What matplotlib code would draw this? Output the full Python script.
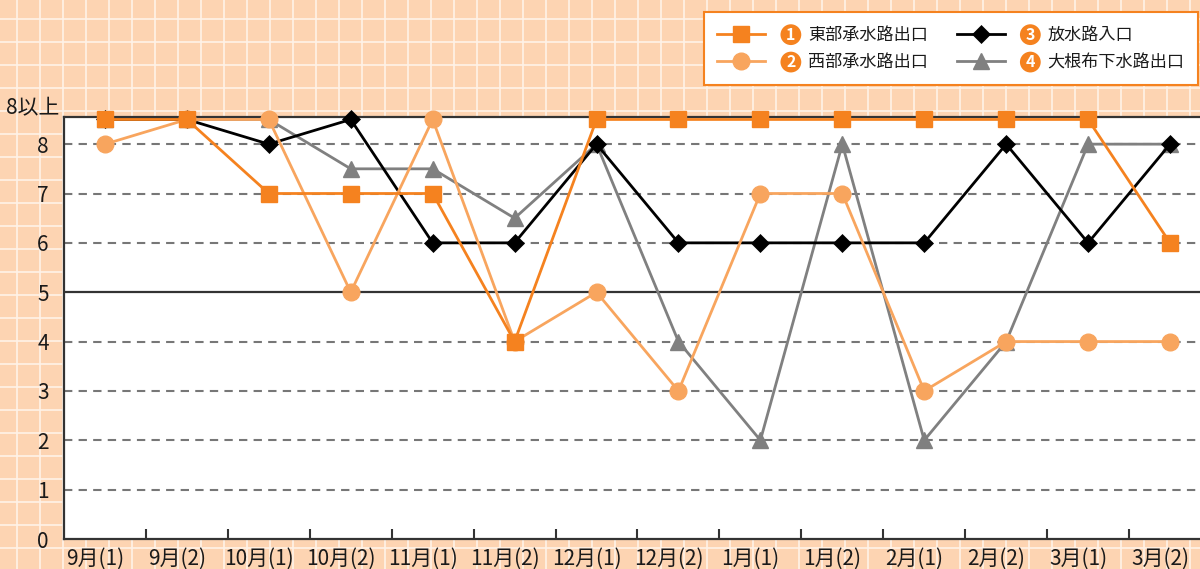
import numpy as np
import matplotlib
matplotlib.use('Agg')
import matplotlib.pyplot as plt
from matplotlib.transforms import ScaledTranslation

plt.rcParams['font.family'] = ['Noto Sans CJK JP', 'DejaVu Sans']

# データ（透視度など、8以上は8.5として描画）
periods = ['9月(1)', '9月(2)', '10月(1)', '10月(2)', '11月(1)', '11月(2)', '12月(1)',
           '12月(2)', '1月(1)', '1月(2)', '2月(1)', '2月(2)', '3月(1)', '3月(2)']
east_outlet = [8.5, 8.5, 7, 7, 7, 4, 8.5, 8.5, 8.5, 8.5, 8.5, 8.5, 8.5, 6]
west_outlet = [8, 8.5, 8.5, 5, 8.5, 4, 5, 3, 7, 7, 3, 4, 4, 4]
discharge_inlet = [8.5, 8.5, 8, 8.5, 6, 6, 8, 6, 6, 6, 6, 8, 6, 8]
ohnebu_outlet = [8.5, 8.5, 8.5, 7.5, 7.5, 6.5, 8, 4, 2, 8, 2, 4, 8, 8]
series_names = ['東部承水路出口', '西部承水路出口', '放水路入口', '大根布下水路出口']
y_ticks = [0, 1, 2, 3, 4, 5, 6, 7, 8]

ORANGE = '#F5821F'
LIGHT = '#F8A55E'
BG = '#FDD4B2'
TXT = '#1a1a1a'

W, H = 1200, 569
fig = plt.figure(figsize=(W / 100, H / 100), dpi=100)

# 方眼紙風の背景
bg = fig.add_axes([0, 0, 1, 1], zorder=-5)
bg.set_facecolor(BG)
bg.set_xlim(0, W)
bg.set_ylim(H, 0)
bg.set_xticks(np.arange(16.5, W, 23))
bg.set_yticks(np.arange(19.3, H, 23))
bg.grid(True, color='#FFF3E8', linewidth=1.2)
bg.tick_params(length=0, labelbottom=False, labelleft=False)
for s in bg.spines.values():
    s.set_visible(False)

ax = fig.add_axes([64 / W, 1 - 539 / H, (1211 - 64) / W, (539 - 117) / H])
ax.set_facecolor('white')
x = np.arange(len(periods))

# 補助線
for v in y_ticks[1:]:
    if v == 5:
        ax.axhline(v, color='#333333', linewidth=1.6, zorder=1)
    else:
        ax.axhline(v, color='#777777', linewidth=1.5, linestyle=(0, (4, 3)), zorder=1)

h4, = ax.plot(x, ohnebu_outlet, color='#808080', linewidth=2, marker='^', markersize=12,
              zorder=3, clip_on=False)
h3, = ax.plot(x, discharge_inlet, color='black', linewidth=2, marker='D', markersize=9.5,
              markeredgewidth=0.5, zorder=4, clip_on=False)
h2, = ax.plot(x, west_outlet, color=LIGHT, linewidth=2, marker='o', markersize=12,
              zorder=5, clip_on=False)
h1, = ax.plot(x, east_outlet, color=ORANGE, linewidth=2, marker='s', markersize=11,
              zorder=6, clip_on=False)

ax.set_xlim(-0.5, len(periods) - 0.5)
ax.set_ylim(0, 8.55)

ax.set_xticks(x[:-1] + 0.5)
ax.set_xticklabels([])
ax.tick_params(axis='x', which='major', direction='in', length=7, width=1.5, color='#333333')
ax.set_xticks(x, minor=True)
ax.set_xticklabels(periods, minor=True, fontsize=15, color=TXT)
ax.tick_params(axis='x', which='minor', length=0, pad=6)
# 元図のラベルは少し左寄り
shift = ScaledTranslation(-10 / 100, 0, fig.dpi_scale_trans)
for lbl in ax.get_xticklabels(minor=True):
    lbl.set_transform(lbl.get_transform() + shift)

ax.set_yticks(y_ticks)
ax.set_yticklabels([str(v) for v in y_ticks], fontsize=15, color=TXT)
ax.tick_params(axis='y', length=0, pad=11)
ax.annotate('8以上', xy=(0, 8.5), xycoords=('axes fraction', 'data'), xytext=(-3, 8),
            textcoords='offset points', ha='right', va='center', fontsize=15, color=TXT)

for s in ax.spines.values():
    s.set_color('#333333')
    s.set_linewidth(1.6)

# 凡例
leg = fig.legend([h1, h2, h3, h4], series_names, ncol=2, loc='upper right',
                 bbox_to_anchor=(1198 / W, 1 - 12 / H), prop={'size': 12.3}, frameon=True,
                 fancybox=False, edgecolor=ORANGE, facecolor='white', framealpha=1,
                 handlelength=2.8, handletextpad=2.5, columnspacing=1.7,
                 labelspacing=0.55, borderpad=0.8, borderaxespad=0)
leg.get_frame().set_linewidth(1.5)
for t in leg.get_texts():
    t.set_color(TXT)

fig.canvas.draw()
renderer = fig.canvas.get_renderer()
inv = fig.transFigure.inverted()
for i, t in enumerate(leg.get_texts()):
    bb = t.get_window_extent(renderer)
    cx, cy = inv.transform((bb.x0 - 17, (bb.y0 + bb.y1) / 2))
    fig.text(cx, cy, str(i + 1), ha='center', va='center', fontsize=11.5, color='white',
             fontweight='bold', zorder=10,
             bbox=dict(boxstyle='circle,pad=0.15', facecolor=ORANGE, edgecolor='none'))

fig.savefig('out.png', dpi=100)
